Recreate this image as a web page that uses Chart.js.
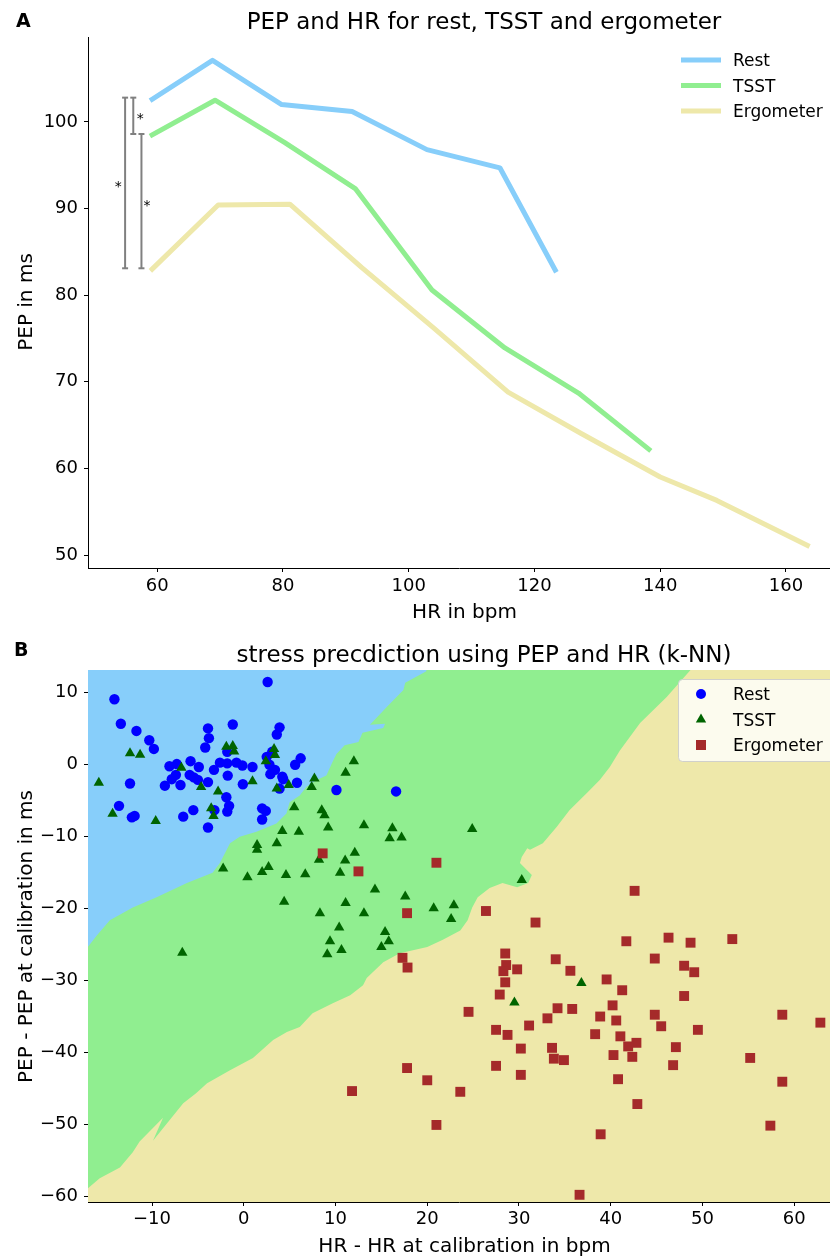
<!DOCTYPE html>
<html>
<head>
<meta charset="utf-8">
<script src="https://cdn.jsdelivr.net/npm/chart.js@4.4.1/dist/chart.umd.min.js"></script>
<style>
  html, body { margin: 0; padding: 0; background: #fff; }
  #wrap { position: relative; width: 830px; height: 1256px; }
  canvas { position: absolute; left: 0; }
  #pep { top: 0; }
  #knn { top: 630px; }
</style>
</head>
<body>
<div id="wrap">
  <canvas id="pep" width="830" height="630"></canvas>
  <canvas id="knn" width="830" height="626"></canvas>
</div>
<script>
// ---- A: mean PEP against HR, one line per condition
const restHR  = [59.2, 68.8, 79.8, 91.0, 102.9, 114.5, 123.3];
const restPEP = [102.6, 107.1, 102.0, 101.2, 96.8, 94.7, 82.9];
const tsstHR  = [59.2, 69.2, 80.3, 91.5, 103.7, 115.3, 127.0, 138.2];
const tsstPEP = [98.5, 102.5, 97.6, 92.3, 80.6, 73.9, 68.7, 62.2];
const ergoHR  = [59.2, 69.7, 81.1, 92.5, 104.0, 115.8, 127.5, 140.0, 149.0, 163.4];
const ergoPEP = [83.0, 90.4, 90.5, 83.2, 76.2, 68.8, 64.0, 59.0, 56.3, 51.1];

// significance brackets (x position, low end, high end) and their stars
const bracketX    = [54.9, 56.2, 57.5];
const bracketLow  = [83.1, 98.6, 83.1];
const bracketHigh = [102.8, 102.8, 98.6];
const starX = [53.8, 57.3, 58.4];
const starY = [92.8, 100.6, 90.6];

const pepTicksX = [60, 80, 100, 120, 140, 160];
const pepTicksY = [50, 60, 70, 80, 90, 100];

// ---- B: k-NN prediction, deltas to calibration
const restPoints = [
  [-14.1, 9.0], [2.6, 11.4], [-13.4, 5.6], [-11.7, 4.6], [-10.3, 3.3], [-9.8, 2.1],
  [-12.4, -2.7], [-13.6, -5.8], [-12.2, -7.4], [-11.9, -7.2], [-8.1, -0.3], [-7.3, 0.0],
  [-8.6, -3.0], [-7.85, -2.1], [-7.4, -1.5], [-6.9, -2.9], [-6.6, -7.3], [-5.8, 0.4],
  [-4.9, -0.4], [-5.9, -1.5], [-5.45, -1.85], [-5.0, -2.2], [-5.5, -6.4], [-3.9, -2.5],
  [-3.9, 4.95], [-3.8, 3.6], [-4.2, 2.3], [-3.9, -8.8], [-3.25, -0.8], [-2.6, 0.2],
  [-1.8, 0.1], [-1.75, -1.6], [-1.2, 5.5], [-1.8, 1.7], [-0.8, 0.2], [-0.15, -0.2],
  [-0.1, -2.8], [0.95, -0.4], [-1.9, -4.6], [-1.6, -5.8], [-1.8, -6.6], [-3.2, -6.4],
  [2.0, -6.15], [2.4, -6.5], [2.0, -7.7], [3.9, 5.1], [3.6, 4.1], [2.5, 1.0],
  [3.1, 1.7], [2.8, -0.1], [3.4, -0.8], [2.9, -1.4], [4.2, -1.75], [4.3, -2.1],
  [3.9, -3.4], [5.6, -0.1], [6.2, 0.8], [5.8, -2.6], [10.1, -3.6], [16.6, -3.8]
];
const tsstPoints = [
  [-15.8, -2.6], [-14.3, -6.9], [-12.4, 1.5], [-11.3, 1.3], [-9.6, -7.9], [-6.8, -0.5],
  [-4.65, -3.2], [-2.8, -3.8], [-3.55, -6.15], [-3.3, -7.2], [-1.9, 2.4], [-1.2, 2.5],
  [-1.05, 1.75], [0.95, -2.4], [2.4, 0.4], [3.3, 2.1], [3.4, 1.25], [3.6, -3.4],
  [4.9, -2.9], [5.5, -6.0], [7.7, -2.0], [7.4, -3.2], [12.0, 0.4], [11.1, -1.2],
  [8.5, -6.4], [8.8, -7.1], [9.2, -8.8], [4.2, -9.3], [6.0, -9.4], [13.1, -8.5],
  [1.45, -11.25], [1.45, -11.9], [3.6, -11.0], [-2.25, -14.5], [0.4, -15.7], [2.0, -15.0],
  [2.7, -14.3], [4.6, -15.4], [6.7, -15.3], [8.2, -13.3], [11.05, -13.4], [12.1, -12.3],
  [10.5, -15.1], [14.3, -17.4], [16.2, -8.9], [15.9, -10.3], [17.2, -10.2], [24.9, -9.0],
  [4.4, -19.1], [8.3, -20.7], [11.1, -19.3], [13.1, -20.7], [17.6, -18.4], [10.4, -22.7],
  [15.4, -23.3], [15.8, -24.6], [9.4, -24.6], [-6.7, -26.2], [9.1, -26.4], [10.65, -25.8],
  [15.0, -25.4], [30.3, -16.1], [20.7, -20.0], [22.9, -19.6], [22.6, -21.5], [29.5, -33.1],
  [36.8, -30.4]
];
const ergoPoints = [
  [8.6, -12.4], [12.5, -14.9], [17.8, -20.7], [21.0, -13.7], [26.4, -20.4], [31.8, -22.0],
  [42.6, -17.6], [41.7, -24.6], [46.3, -24.1], [48.7, -24.8], [53.25, -24.3], [17.3, -26.9],
  [17.85, -28.25], [17.8, -42.2], [11.8, -45.4], [28.5, -26.3], [34.0, -27.1], [44.8, -27.0],
  [28.6, -27.9], [28.3, -28.75], [28.5, -30.3], [29.8, -28.5], [35.6, -28.7], [48.0, -28.0],
  [49.1, -28.9], [39.55, -29.9], [41.25, -31.4], [48.0, -32.2], [27.9, -32.0], [24.5, -34.4],
  [34.2, -33.9], [35.8, -34.0], [40.2, -33.5], [38.85, -35.05], [40.6, -35.6], [44.8, -34.8],
  [58.7, -34.8], [62.85, -35.9], [33.1, -35.3], [31.1, -36.3], [27.5, -36.9], [28.75, -37.6],
  [38.3, -37.5], [41.05, -37.8], [45.5, -36.4], [49.5, -36.9], [42.8, -38.7], [41.9, -39.2],
  [30.2, -39.5], [33.6, -39.4], [33.8, -40.9], [34.9, -41.1], [40.3, -40.4], [42.35, -40.65],
  [47.1, -39.3], [46.8, -41.8], [55.2, -40.8], [27.5, -41.9], [30.2, -43.15], [40.8, -43.75],
  [58.7, -44.1], [20.0, -43.9], [23.6, -45.5], [42.9, -47.2], [21.0, -50.1], [38.9, -51.4],
  [57.4, -50.2], [36.6, -59.8]
];

// decision regions as outlines (the rest of the plane is predicted "Ergometer")
const restRegion = [
  [-18, 14], [19.9, 14], [19.9, 12.9], [17.6, 11.3], [17.4, 10.3], [15.56, 7.9],
  [13.75, 5.45], [15.4, 5.6], [15.2, 5.0], [12.94, 4.35], [12.5, 3.06], [11.0, 2.6],
  [10.1, 1.4], [9.67, 0.28], [9.0, -1.57], [7.9, -2.26], [6.8, -3.2], [6.1, -4.35],
  [5.0, -5.3], [4.65, -6.85], [3.56, -8.25], [1.38, -9.4], [-0.44, -10.1], [-1.5, -11.0],
  [-2.6, -13.75], [-3.4, -15.1], [-6.2, -16.5], [-9.5, -18.5], [-12.1, -19.9], [-14.6, -21.7],
  [-16.0, -23.75], [-17.0, -25.4], [-18, -25.4]
];
const tsstRegion = [
  [-18, 14], [49.0, 14], [49.0, 13.5], [46.1, 9.3], [43.2, 5.7], [41.0, 1.9],
  [39.9, -0.4], [38.8, -2.2], [37.4, -4.0], [35.5, -6.4], [34.1, -8.75], [32.6, -11.0],
  [31.2, -11.9], [30.9, -11.7], [30.3, -12.9], [30.1, -13.75], [31.4, -15.4], [31.0, -16.5],
  [29.8, -17.1], [28.2, -16.5], [26.8, -17.2], [25.5, -18.5], [24.9, -19.9], [24.4, -21.7],
  [23.6, -23.1], [21.7, -24.4], [20.0, -25.4], [17.0, -26.25], [15.2, -27.5], [13.4, -29.7],
  [13.0, -30.7], [11.6, -32.1], [9.7, -33.2], [7.5, -34.6], [6.1, -36.5], [4.7, -37.2],
  [3.2, -38.3], [1.0, -40.8], [-1.5, -42.5], [-4.0, -44.3], [-5.2, -45.7], [-6.6, -47.1],
  [-9.9, -52.3], [-8.8, -49.1], [-11.35, -52.4], [-12.1, -53.9], [-13.5, -56.0], [-15.7, -57.5],
  [-17.0, -58.9], [-18, -58.9]
];

const knnTicksX = [-10, 0, 10, 20, 30, 40, 50, 60];
const knnTicksY = [10, 0, -10, -20, -30, -40, -50, -60];

const BLUE_BG = '#87CEFA', GREEN_BG = '#90EE90', KHAKI_BG = '#EEE8AA';

Chart.defaults.font.family = "'DejaVu Sans', sans-serif";
Chart.defaults.font.size = 18;
Chart.defaults.color = '#000';

const xy = pairs => pairs.map(([x, y]) => ({ x, y }));
const zip = (xs, ys) => xs.map((x, i) => ({ x, y: ys[i] }));
const minus = v => (v < 0 ? '\u2212' + (-v) : String(v));

function axis(min, max, ticks, fit, pad) {
  return {
    type: 'linear', min, max,
    afterBuildTicks: s => { s.ticks = ticks.map(v => ({ value: v })); },
    afterFit: fit,
    ticks: { color: '#000', padding: pad, callback: v => minus(v) },
    grid: { drawOnChartArea: false, tickLength: 4, tickColor: '#000', tickWidth: 1 },
    border: { color: '#000', width: 1 }
  };
}

// titles, panel letter, axis labels
const panelText = {
  id: 'panelText',
  afterDraw(chart, args, o) {
    const ctx = chart.ctx;
    ctx.save();
    ctx.fillStyle = '#000';
    ctx.textBaseline = 'alphabetic';
    ctx.font = "bold 19px 'DejaVu Sans'";
    ctx.textAlign = 'left';
    ctx.fillText(o.letter, o.letterX, o.letterY);
    ctx.font = "23px 'DejaVu Sans'";
    ctx.textAlign = 'center';
    ctx.fillText(o.title, o.titleX, o.titleY);
    ctx.font = "20px 'DejaVu Sans'";
    ctx.fillText(o.xTitle, o.xTitleX, o.xTitleY);
    ctx.translate(o.yTitleX, o.yTitleY);
    ctx.rotate(-Math.PI / 2);
    ctx.fillText(o.yTitle, 0, 0);
    ctx.restore();
  }
};

// legend drawn inside the plot area
const innerLegend = {
  id: 'innerLegend',
  afterDraw(chart, args, o) {
    const ctx = chart.ctx;
    ctx.save();
    if (o.box) {
      const b = o.box;
      ctx.beginPath();
      ctx.roundRect(b.x, b.y, b.w, b.h, 4);
      ctx.fillStyle = 'rgba(255,255,255,0.8)';
      ctx.fill();
      ctx.strokeStyle = 'rgba(204,204,204,0.9)';
      ctx.lineWidth = 1;
      ctx.stroke();
    }
    ctx.font = "17px 'DejaVu Sans'";
    ctx.textAlign = 'left';
    ctx.textBaseline = 'alphabetic';
    o.items.forEach((idx, i) => {
      const ds = chart.data.datasets[idx];
      const y = o.y0 + i * o.dy;
      if (o.kind === 'line') {
        ctx.strokeStyle = ds.borderColor;
        ctx.lineWidth = 5;
        ctx.beginPath();
        ctx.moveTo(o.markX - 20, y);
        ctx.lineTo(o.markX + 20, y);
        ctx.stroke();
      } else {
        ctx.fillStyle = ds.pointBackgroundColor;
        ctx.beginPath();
        if (ds.pointStyle === 'circle') {
          ctx.arc(o.markX, y, 5, 0, Math.PI * 2);
        } else if (ds.pointStyle === 'triangle') {
          ctx.moveTo(o.markX, y - 6);
          ctx.lineTo(o.markX + 5.2, y + 3);
          ctx.lineTo(o.markX - 5.2, y + 3);
          ctx.closePath();
        } else {
          ctx.rect(o.markX - 5, y - 5, 10, 10);
        }
        ctx.fill();
      }
      ctx.fillStyle = '#000';
      ctx.fillText(ds.label, o.textX, y + 6);
    });
    ctx.restore();
  }
};

// stars next to the significance brackets
const stars = {
  id: 'stars',
  afterDatasetsDraw(chart) {
    const ctx = chart.ctx, sx = chart.scales.x, sy = chart.scales.y;
    ctx.save();
    ctx.fillStyle = '#000';
    ctx.font = "14px 'DejaVu Sans'";
    ctx.textAlign = 'center';
    ctx.textBaseline = 'alphabetic';
    const m = ctx.measureText('*');
    const shift = (m.actualBoundingBoxAscent - m.actualBoundingBoxDescent) / 2;
    starX.forEach((x, i) => {
      ctx.fillText('*', sx.getPixelForValue(x), sy.getPixelForValue(starY[i]) + shift);
    });
    ctx.restore();
  }
};

// background of the k-NN plot = "Ergometer" class
const areaFill = {
  id: 'areaFill',
  beforeDatasetsDraw(chart, args, o) {
    const { ctx, chartArea: a } = chart;
    ctx.save();
    ctx.fillStyle = o.color;
    ctx.fillRect(a.left, a.top, a.right - a.left, a.bottom - a.top);
    ctx.restore();
  }
};

const lineSet = (label, xs, ys, color) => ({
  label, data: zip(xs, ys), borderColor: color, backgroundColor: color,
  borderWidth: 5, pointRadius: 0, borderCapStyle: 'square', borderJoinStyle: 'round'
});
const bracketSet = i => ({
  label: 'bracket' + i,
  data: [{ x: bracketX[i], y: bracketLow[i] }, { x: bracketX[i], y: bracketHigh[i] }],
  borderColor: '#808080', borderWidth: 2,
  pointStyle: 'line', pointRadius: 3, pointBorderWidth: 2, pointBorderColor: '#808080'
});

new Chart(document.getElementById('pep'), {
  type: 'line',
  data: {
    datasets: [
      lineSet('Rest', restHR, restPEP, '#87CEFA'),
      lineSet('TSST', tsstHR, tsstPEP, '#90EE90'),
      lineSet('Ergometer', ergoHR, ergoPEP, '#EEE8AA'),
      bracketSet(0), bracketSet(1), bracketSet(2)
    ]
  },
  options: {
    responsive: false,
    animation: false,
    events: [],
    layout: { autoPadding: false, padding: { top: 37, left: 0, right: 0, bottom: 0 } },
    scales: {
      x: axis(49, 167, pepTicksX, s => { s.height = 62; }, 4),
      y: axis(48.5, 109.8, pepTicksY, s => { s.width = 88; }, 6)
    },
    plugins: {
      legend: { display: false },
      tooltip: { enabled: false },
      panelText: {
        letter: 'A', letterX: 16, letterY: 27,
        title: 'PEP and HR for rest, TSST and ergometer', titleX: 484, titleY: 29,
        xTitle: 'HR in bpm', xTitleX: 464.5, xTitleY: 618,
        yTitle: 'PEP in ms', yTitleX: 32, yTitleY: 302
      },
      innerLegend: { kind: 'line', items: [0, 1, 2], markX: 701, textX: 733, y0: 60, dy: 25.5 }
    }
  },
  plugins: [panelText, innerLegend, stars]
});

const pointSet = (label, pairs, style, color, radius, order) => ({
  label, data: xy(pairs), showLine: false, order,
  pointStyle: style, pointRadius: radius, pointBorderWidth: 0,
  pointBackgroundColor: color, backgroundColor: color, borderColor: color
});
const regionSet = (label, pairs, color, order) => ({
  label, data: xy(pairs), order, fill: 'shape',
  backgroundColor: color, borderColor: 'rgba(0,0,0,0)', borderWidth: 0, pointRadius: 0
});

new Chart(document.getElementById('knn'), {
  type: 'line',
  data: {
    datasets: [
      pointSet('Rest', restPoints, 'circle', '#0000FF', 5.2, 3),
      pointSet('TSST', tsstPoints, 'triangle', '#006400', 6, 2),
      pointSet('Ergometer', ergoPoints, 'rect', '#A52A2A', 7, 1),
      regionSet('rest region', restRegion, BLUE_BG, 9),
      regionSet('tsst region', tsstRegion, GREEN_BG, 10)
    ]
  },
  options: {
    responsive: false,
    animation: false,
    events: [],
    layout: { autoPadding: false, padding: { top: 40, left: 0, right: 0, bottom: 0 } },
    scales: {
      x: axis(-16.98, 63.9, knnTicksX, s => { s.height = 54; }, 3),
      y: axis(-60.8, 13.06, knnTicksY, s => { s.width = 88; }, 6)
    },
    plugins: {
      legend: { display: false },
      tooltip: { enabled: false },
      areaFill: { color: KHAKI_BG },
      panelText: {
        letter: 'B', letterX: 14, letterY: 26,
        title: 'stress precdiction using PEP and HR (k-NN)', titleX: 484, titleY: 32,
        xTitle: 'HR - HR at calibration in bpm', xTitleX: 464.5, xTitleY: 622,
        yTitle: 'PEP - PEP at calibration in ms', yTitleX: 32, yTitleY: 306.5
      },
      innerLegend: {
        kind: 'point', items: [0, 1, 2], markX: 701, textX: 733, y0: 64, dy: 25.5,
        box: { x: 678.5, y: 49.5, w: 160, h: 82 }
      }
    }
  },
  plugins: [areaFill, panelText, innerLegend]
});
</script>
</body>
</html>
